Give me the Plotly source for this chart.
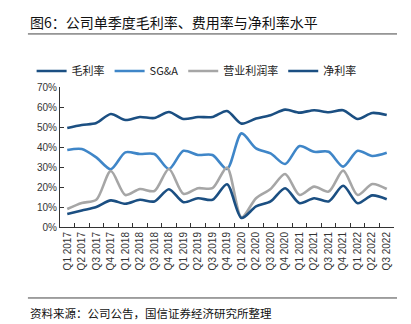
import plotly.graph_objects as go

quarters = [
    "Q1 2017", "Q2 2017", "Q3 2017", "Q4 2017",
    "Q1 2018", "Q2 2018", "Q3 2018", "Q4 2018",
    "Q1 2019", "Q2 2019", "Q3 2019", "Q4 2019",
    "Q1 2020", "Q2 2020", "Q3 2020", "Q4 2020",
    "Q1 2021", "Q2 2021", "Q3 2021", "Q4 2021",
    "Q1 2022", "Q2 2022", "Q3 2022",
]

# Quarterly ratios (%)
gross_margin = [49.5, 51.0, 52.0, 56.5, 53.5, 55.0, 54.5, 57.5, 54.0, 55.0, 55.0, 58.0,
                51.7, 54.2, 55.9, 58.7, 57.2, 58.4, 57.4, 58.4, 54.0, 57.0, 56.0]
sga_ratio = [38.5, 39.0, 34.8, 28.9, 37.3, 36.5, 36.5, 29.0, 38.1, 36.0, 36.0, 29.0,
             46.8, 39.3, 36.8, 31.5, 40.5, 37.6, 37.6, 30.2, 38.1, 35.5, 37.1]
operating_margin = [9.0, 12.0, 13.6, 28.0, 16.0, 19.0, 18.0, 29.0, 16.6, 19.4, 19.4, 29.7,
                    4.8, 14.4, 19.0, 26.5, 16.0, 20.2, 17.7, 28.2, 16.0, 21.5, 19.0]
net_margin = [6.5, 8.3, 10.0, 13.3, 11.6, 13.6, 12.8, 18.9, 12.4, 14.4, 13.6, 21.4,
              4.5, 10.3, 12.8, 19.4, 11.9, 14.4, 12.8, 20.6, 11.9, 15.8, 13.9]

y_ticks = [0, 10, 20, 30, 40, 50, 60, 70]

DARK_BLUE = "#1b4f82"
MID_BLUE = "#3f86c8"
GRAY = "#a6a6a6"

series = [
    ("毛利率", gross_margin, DARK_BLUE),
    ("SG&A", sga_ratio, MID_BLUE),
    ("营业利润率", operating_margin, GRAY),
    ("净利率", net_margin, DARK_BLUE),
]

fig = go.Figure()
for name, vals, color in series:
    fig.add_trace(go.Scatter(
        x=quarters, y=[v / 100 for v in vals], name=name, mode="lines",
        line=dict(color=color, width=2.6, shape="spline", smoothing=0.8),
    ))

CJK = "Noto Sans CJK SC"
LAT = "Liberation Sans"

fig.update_layout(
    width=411, height=324,
    margin=dict(l=60, r=17, t=87, b=97),
    paper_bgcolor="white", plot_bgcolor="white",
    showlegend=True,
    legend=dict(
        orientation="h", x=-0.085, xanchor="left", y=1.114, yanchor="middle",
        font=dict(family=CJK, size=11, color="#222222"),
        itemwidth=30, tracegroupgap=0, bgcolor="rgba(0,0,0,0)",
    ),
    xaxis=dict(
        type="category", tickangle=-90, ticks="inside", ticklen=4, tickcolor="#333333",
        tickson="boundaries", showline=True, linecolor="#333333", linewidth=1,
        showgrid=False, tickfont=dict(family=LAT, size=10, color="#333333"),
        range=[-0.5, len(quarters) - 0.5],
    ),
    yaxis=dict(
        range=[0, 0.7], tickvals=[t / 100 for t in y_ticks], tickformat=".0%",
        ticks="inside", ticklen=4, tickcolor="#333333", showline=True,
        linecolor="#333333", linewidth=1, showgrid=False, zeroline=False,
        tickfont=dict(family=LAT, size=10, color="#333333"),
    ),
    font=dict(family=CJK),
)

fig.add_annotation(
    text="图6：公司单季度毛利率、费用率与净利率水平", xref="paper", yref="paper",
    x=-0.096, y=1.464, xanchor="left", yanchor="middle", showarrow=False,
    font=dict(family=CJK, size=14, color="#111111"),
)
fig.add_annotation(
    text="资料来源：公司公告，国信证券经济研究所整理", xref="paper", yref="paper",
    x=-0.096, y=-0.614, xanchor="left", yanchor="middle", showarrow=False,
    font=dict(family=CJK, size=11.5, color="#111111"),
)
fig.add_shape(type="line", xref="paper", yref="paper", x0=-0.096, x1=1.009,
              y0=1.379, y1=1.379, line=dict(color="#444444", width=1))
fig.add_shape(type="line", xref="paper", yref="paper", x0=-0.096, x1=1.009,
              y0=-0.507, y1=-0.507, line=dict(color="#444444", width=1))

fig.write_html("out.html")
